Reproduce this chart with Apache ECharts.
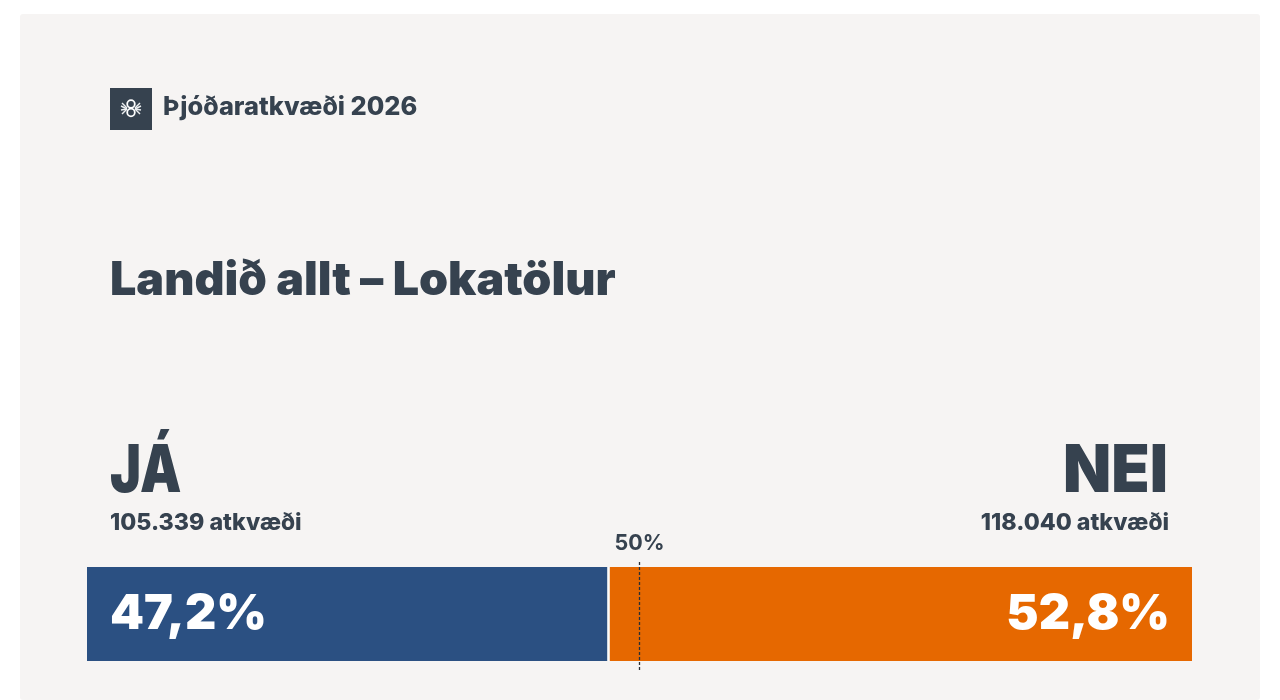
<!DOCTYPE html>
<html><head><meta charset="utf-8">
<style>html,body{margin:0;padding:0;background:#fff}#c{width:1280px;height:700px}</style>
<script src="https://cdn.jsdelivr.net/npm/echarts@6/dist/echarts.min.js"></script>
</head><body><div id="c"></div>
<script>
const categories = ['Landið allt'];
const jaShare = [47.2];
const neiShare = [52.8];
const shareLabels = ['47,2%', '52,8%'];
const voteLabels = ['105.339 atkvæði', '118.040 atkvæði'];
const sideNames = ['JÁ', 'NEI'];
const midpoint = 50;
const ink = '#36424f';
const font = 'Inter';
const chart = echarts.init(document.getElementById('c'), null, {renderer: 'canvas'});
function txt(text, pos, size, weight, align, extra) {
  return {type: 'text', z: 10, ...pos, ...(extra || {}), style: {text, font: `${weight} ${size}px ${font}`, fill: ink, textAlign: align || 'left', textVerticalAlign: 'middle'}};
}
const ray = (pts) => ({type: 'polyline', z: 6, shape: {points: pts}, style: {fill: 'none', stroke: '#eceef0', lineWidth: 1.4}});
chart.setOption({
  animation: false,
  backgroundColor: '#ffffff',
  graphic: [
    {type: 'rect', z: -1, shape: {x: 20, y: 14, width: 1240, height: 686, r: 3}, style: {fill: '#f6f4f3'}},
    {type: 'rect', z: 5, shape: {x: 110, y: 88, width: 42, height: 42}, style: {fill: ink}},
    {type: 'circle', z: 6, shape: {cx: 131, cy: 104, r: 3.8}, style: {fill: 'none', stroke: '#fff', lineWidth: 1.8}},
    {type: 'circle', z: 6, shape: {cx: 131, cy: 112.5, r: 3.8}, style: {fill: 'none', stroke: '#fff', lineWidth: 1.8}},
    ray([[122, 103], [127, 108]]), ray([[121, 106], [127, 109]]), ray([[121, 110], [127, 109]]), ray([[122, 114], [127, 109]]),
    ray([[140, 103], [135, 108]]), ray([[141, 106], [135, 109]]), ray([[141, 110], [135, 109]]), ray([[140, 114], [135, 109]]),
    txt('Þjóðaratkvæði 2026', {x: 163, y: 107}, 25.4, 800),
    txt('Landið allt – Lokatölur', {x: 110, y: 281}, 46.6, 900),
    txt(sideNames[0], {x: 110, y: 472}, 66, 900, 'left', {scaleX: 0.79}),
    txt(sideNames[1], {x: 1168, y: 472}, 66, 900, 'right', {scaleX: 0.95}),
    txt(voteLabels[0], {x: 110, y: 523}, 23.2, 800),
    txt(voteLabels[1], {x: 1169, y: 523}, 23.2, 800, 'right')
  ],
  grid: [
    {left: 87, width: 1105, top: 567, height: 94},
    {left: 87, width: 1105, top: 561, height: 109}
  ],
  xAxis: [
    {gridIndex: 0, type: 'value', min: 0, max: 100, show: false},
    {gridIndex: 1, type: 'value', min: 0, max: 100, show: false}
  ],
  yAxis: [
    {gridIndex: 0, type: 'category', data: categories, show: false},
    {gridIndex: 1, type: 'category', data: categories, show: false}
  ],
  series: [
    {type: 'bar', stack: 'v', barWidth: '100%', data: jaShare, itemStyle: {color: '#2b5082'},
     label: {show: true, position: 'insideLeft', distance: 23, formatter: shareLabels[0], color: '#fff', fontFamily: font, fontWeight: 900, fontSize: 48.5},
     markLine: {silent: true, symbol: 'none', label: {show: false}, lineStyle: {color: '#fbfbfa', width: 2.6, type: 'solid'}, data: [{xAxis: jaShare[0]}], z: 4}},
    {type: 'bar', stack: 'v', barWidth: '100%', data: neiShare, itemStyle: {color: '#e66800'},
     label: {show: true, position: 'insideRight', distance: 22, formatter: shareLabels[1], color: '#fff', fontFamily: font, fontWeight: 900, fontSize: 48.5}},
    {type: 'line', xAxisIndex: 1, yAxisIndex: 1, data: [], z: 6,
     markLine: {silent: true, symbol: 'none', lineStyle: {color: '#2a2f36', width: 1.3, type: [3, 2]},
       label: {show: true, position: 'end', distance: 6, formatter: '50%', color: ink, fontFamily: font, fontWeight: 700, fontSize: 21.5},
       data: [{xAxis: midpoint}]}}
  ]
});
</script></body></html>
